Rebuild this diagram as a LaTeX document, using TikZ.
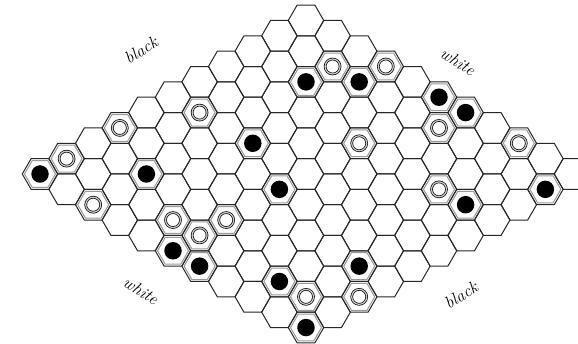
\documentclass[tikz,border=0pt]{standalone}
\usetikzlibrary{shapes.geometric}
\begin{document}
\begin{tikzpicture}[x=1pt,y=-1pt,
  hexcell/.style={regular polygon, regular polygon sides=6, minimum size=35.46pt,
    inner sep=0pt, outer sep=0pt, draw=black!85, line width=1pt},
  usedcell/.style={regular polygon, regular polygon sides=6, minimum size=31pt,
    inner sep=0pt, outer sep=0pt, draw=black!40, line width=1pt},
  blackstone/.style={circle, fill=black, inner sep=0pt, minimum size=17.5pt},
  whitestone/.style={circle, draw=black, double=black!20, double distance=1.2pt,
    line width=0.7pt, inner sep=0pt, minimum size=15pt, fill=white},
  sidelabel/.style={font=\fontsize{17}{17}\selectfont\itshape, inner sep=0pt}]
\useasboundingbox (0,0) rectangle (578,344);
\clip (0,0) rectangle (578,344);
\foreach \a in {0,...,10}{
  \foreach \b in {0,...,10}{
    \node[hexcell] (h-\a-\b) at ({40+26.6*(\a+\b)},{174+15.355*(\b-\a)}) {};
  }
}
\foreach \a/\b [count=\i] in {0/0,2/2,5/3,8/2,9/3,10/5,10/6,4/5,9/10,7/9,0/5,0/6,1/8,3/9,0/10}{
  \node[usedcell] (ub\i) at (h-\a-\b) {};
  \node[blackstone] (b\i) at (h-\a-\b) {};
}
\foreach \a/\b [count=\i] in {1/0,3/0,0/2,5/1,1/4,2/5,1/5,9/2,10/3,7/5,9/6,10/8,7/8,1/9,2/10}{
  \node[usedcell] (uw\i) at (h-\a-\b) {};
  \node[whitestone] (w\i) at (h-\a-\b) {};
}
\node[sidelabel, rotate=32] (lbtl) at (141,50) {black};
\node[sidelabel, rotate=-32] (lwtr) at (458,62) {white};
\node[sidelabel, rotate=-32] (lwbl) at (141,291) {white};
\node[sidelabel, rotate=32] (lbbr) at (461,295) {black};
\end{tikzpicture}
\end{document}
